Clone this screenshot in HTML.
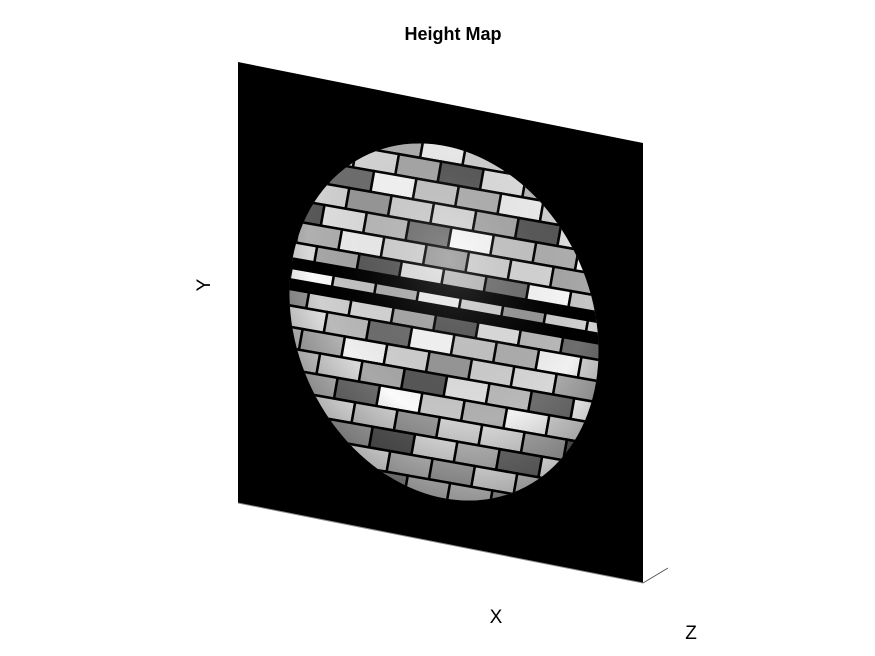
<!DOCTYPE html>
<html><head><meta charset="utf-8"><style>
body{margin:0;background:#fff;width:875px;height:656px;overflow:hidden}
svg{display:block;font-family:"Liberation Sans",sans-serif}
</style></head><body>
<svg id="chart" width="875" height="656" viewBox="0 0 875 656">
<defs>
<clipPath id="ball"><ellipse cx="444" cy="322" rx="148" ry="184" transform="rotate(-24 444 322)"/></clipPath>
<radialGradient id="shade" cx="0.6" cy="0.35" r="0.7">
<stop offset="0" stop-color="#fff" stop-opacity="0.2"/>
<stop offset="0.65" stop-color="#000" stop-opacity="0"/>
<stop offset="1" stop-color="#000" stop-opacity="0.35"/>
</radialGradient>
</defs>
<text x="453" y="40" text-anchor="middle" font-size="18" font-weight="bold">Height Map</text>
<polygon points="238,62 643,143 643,583 238,503" fill="#000"/>
<line x1="238" y1="503" x2="643" y2="583" stroke="#888" stroke-width="1"/>
<line x1="643" y1="583" x2="668" y2="568" stroke="#555" stroke-width="1"/>
<g id="ball-g" clip-path="url(#ball)"></g>
<ellipse cx="444" cy="322" rx="148" ry="184" transform="rotate(-24 444 322)" fill="url(#shade)"/>
<text x="496" y="623" text-anchor="middle" font-size="19">X</text>
<text x="691" y="639" text-anchor="middle" font-size="19">Z</text>
<text x="210" y="285" text-anchor="middle" font-size="19" transform="rotate(-90 210 285)">Y</text>
</svg>
<script>
const shades=["#d0d0d0","#a8a8a8","#e0e0e0","#6e6e6e","#c6c6c6","#f0f0f0","#989898","#d8d8d8","#585858","#bababa","#fafafa","#b0b0b0","#d2d2d2"];
const slitRows=[-1,0];
const g=document.getElementById('ball-g');
const NS='http://www.w3.org/2000/svg';
const grp=document.createElementNS(NS,'g');
grp.setAttribute('transform','rotate(10 444 322)');
g.appendChild(grp);
const rh=21,bw=43;
let k=0;
for(let r=-10;r<=10;r++){
  const y=322+r*rh-rh/2;
  const off=(r%2===0)?0:bw/2;
  for(let x=220-off;x<680;x+=bw){
    const b=document.createElementNS(NS,'rect');
    
    
    b.setAttribute('x',x);b.setAttribute('y',y);
    b.setAttribute('width',bw);b.setAttribute('height',rh);
    b.setAttribute('fill',shades[(k*7+Math.abs(r)*3)%shades.length]);
    b.setAttribute('stroke','#000');b.setAttribute('stroke-width','2.5');
    grp.appendChild(b);k++;
  }
}
slitRows.forEach(s=>{
  const b=document.createElementNS(NS,'rect');
  
  
  b.setAttribute('x',200);b.setAttribute('y',322+s*rh-rh/2-6);
  b.setAttribute('width',500);b.setAttribute('height',12);
  b.setAttribute('fill','#000');
  grp.appendChild(b);
});
</script>
</body></html>
